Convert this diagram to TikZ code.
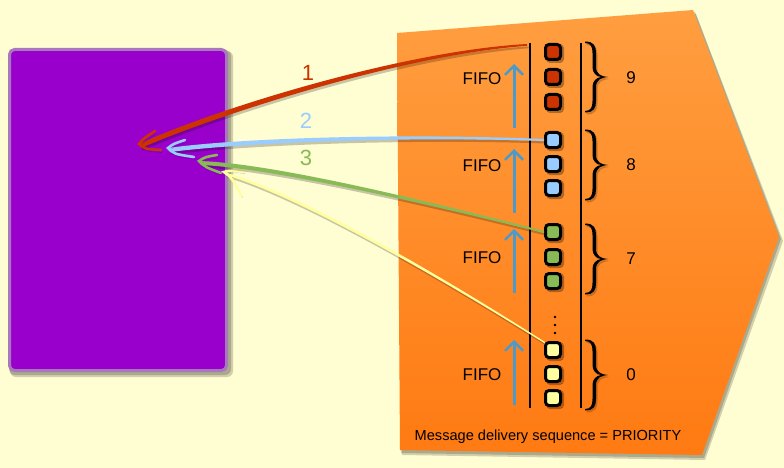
\documentclass[tikz,border=0pt]{standalone}
\usepackage{fontspec}
\setmainfont{Liberation Sans}
\usetikzlibrary{arrows.meta,calc}
\definecolor{bgc}{HTML}{FFFDD2}
\definecolor{purp}{HTML}{9900CC}
\definecolor{purpb}{HTML}{A878BC}
\definecolor{orA}{HTML}{FF9E40}
\definecolor{orB}{HTML}{FF7A12}
\definecolor{qred}{HTML}{CC3300}
\definecolor{qblue}{HTML}{99CCFF}
\definecolor{qgreen}{HTML}{88BB55}
\definecolor{qyellow}{HTML}{FFFFA0}
\definecolor{fifoc}{HTML}{4A9BCB}
\tikzset{
  sq/.style={draw=black, line width=3pt, rounded corners=3.5pt, minimum size=15pt, inner sep=0pt},
  fifolbl/.style={font=\fontsize{17}{20}\selectfont, inner sep=0pt},
  numlbl/.style={font=\fontsize{17}{20}\selectfont, inner sep=0pt},
  fifoarrow/.style={draw=fifoc, line width=3pt, -{Straight Barb[length=9pt,width=18pt,line width=2.6pt]}},
  taper/.style={preaction={fill=black, opacity=0.22, transform canvas={shift={(1.5pt,-2.5pt)}}}},
  barb/.style={line width=2.6pt, line cap=round,
     preaction={draw=black, opacity=0.22, transform canvas={shift={(1.5pt,-2.5pt)}}}},
  curvelbl/.style={font=\fontsize{22}{24}\selectfont, inner sep=0pt},
  softshadow/.style={fill=black, opacity=0.18},
  cbrace/.pic={
    \fill[black, opacity=0.2] (-10.5,-33.5) .. controls (-1.5,-33.5) and (0.5,-29) .. (0.5,-22) -- (0.5,-8)
      .. controls (0.5,-1) and (5.5,1.5) .. (12.5,2)
      .. controls (5.5,2.5) and (0.5,5) .. (0.5,12) -- (0.5,26)
      .. controls (0.5,33) and (-1.5,37.5) .. (-10.5,37.5) -- (-10.5,36)
      .. controls (-4.5,36) and (-3,32) .. (-3,26) -- (-3,12)
      .. controls (-3,6) and (0.5,3) .. (5.5,2)
      .. controls (0.5,1) and (-3,-2) .. (-3,-8) -- (-3,-22)
      .. controls (-3,-28) and (-4.5,-32) .. (-10.5,-32) -- cycle;
    \fill (-12,-35.5) .. controls (-3,-35.5) and (-1,-31) .. (-1,-24) -- (-1,-10)
      .. controls (-1,-3) and (4,-0.5) .. (11,0)
      .. controls (4,0.5) and (-1,3) .. (-1,10) -- (-1,24)
      .. controls (-1,31) and (-3,35.5) .. (-12,35.5)
      -- (-12,34)
      .. controls (-6,34) and (-4.5,30) .. (-4.5,24) -- (-4.5,10)
      .. controls (-4.5,4) and (-1,1) .. (4,0)
      .. controls (-1,-1) and (-4.5,-4) .. (-4.5,-10) -- (-4.5,-24)
      .. controls (-4.5,-30) and (-6,-34) .. (-12,-34) -- cycle;
  },
}
\begin{document}
\begin{tikzpicture}[x=1pt,y=-1pt]
\fill[bgc] (0,0) rectangle (784,468);
\useasboundingbox (0,0) rectangle (784,468);

% orange queue region (with soft shadow)
\fill[softshadow] (399,37) -- (696,14) -- (783,241) -- (705,460) -- (402,455) -- cycle;
\fill[softshadow] (398,35) -- (695,12) -- (781,239) -- (704,458) -- (401,453) -- cycle;
\shade[top color=orA, bottom color=orB]
  (397,33) -- (693,10) -- (779,237) -- (702,455) -- (400,450) -- cycle;

% client box (with soft shadow)
\fill[softshadow, rounded corners=6pt] (10,51) rectangle (233,377);
\fill[softshadow, rounded corners=6pt] (9,50) rectangle (231,375);
\node[draw=purpb, line width=3pt, fill=purp, rounded corners=5pt,
      minimum width=217pt, minimum height=321pt] (client) at (118,210) {};

% queue rails
\draw[line width=2pt] (530,43) -- (530,408);
\draw[line width=2pt] (581,43) -- (581,408);

% squares
\foreach \n/\y/\c in {r1/52/qred, r2/77/qred, r3/102/qred,
                      b1/140/qblue, b2/164/qblue, b3/188/qblue,
                      g1/232/qgreen, g2/257/qgreen, g3/281/qgreen,
                      y1/350/qyellow, y2/374/qyellow, y3/398/qyellow}
{
  \fill[black, opacity=0.3, rounded corners=4pt] (546,\y-8) rectangle (564,\y+11);
  \node[sq, fill=\c] (\n) at (553,\y) {};
}

% dots
\fill (555,317) circle (1.3);
\fill (555,325) circle (1.3);
\fill (555,333) circle (1.3);

% braces and numbers
\pic at (597,77) {cbrace};
\pic at (597,165) {cbrace};
\pic at (597,259) {cbrace};
\pic at (597,375) {cbrace};
\node[numlbl] (n9) at (631,78) {9};
\node[numlbl] (n8) at (631,165) {8};
\node[numlbl] (n7) at (631,259) {7};
\node[numlbl] (n0) at (631,375) {0};

% FIFO labels and arrows
\node[fifolbl] (f9) at (482,79) {FIFO};
\node[fifolbl] (f8) at (482,166) {FIFO};
\node[fifolbl] (f7) at (482,258) {FIFO};
\node[fifolbl] (f0) at (482,375) {FIFO};
\coordinate (a9s) at (514,128); \coordinate (a9e) at (514,64);
\coordinate (a8s) at (514,213); \coordinate (a8e) at (514,149);
\coordinate (a7s) at (514,293); \coordinate (a7e) at (514,229);
\coordinate (a0s) at (514,405); \coordinate (a0e) at (514,340);
\draw[fifoarrow] (a9s) -- (a9e);
\draw[fifoarrow] (a8s) -- (a8e);
\draw[fifoarrow] (a7s) -- (a7e);
\draw[fifoarrow] (a0s) -- (a0e);

% message curves (tapered) with swoosh arrowheads
\coordinate (startR) at (527,44);
\coordinate (startB) at ($(b1.west)+(0,-1)$);
\coordinate (startG) at ($(g1.west)+(0,-1)$);
\coordinate (startY) at ($(y1.north west)+(1,1)$);
\coordinate (tipR) at (139,144);
\coordinate (tipB) at (168,148);
\coordinate (tipG) at (199,161);
\coordinate (tipY) at (224,172);

% yellow
\fill[qyellow, taper] (startY) .. controls (440,275) and (300,193) .. (tipY)
   -- ($(tipY)+(1.5,3)$) .. controls (300,197) and (440,278) .. ($(startY)+(0,1.5)$) -- cycle;
\draw[qyellow, barb] ($(tipY)+(20,-1)$) .. controls ($(tipY)+(8,-2)$) .. (tipY)
   .. controls ($(tipY)+(8,6)$) .. ($(tipY)+(17,23)$);
% green
\fill[qgreen, taper] (startG) .. controls (420,199) and (270,163) .. (tipG)
   -- ($(tipG)+(2,4)$) .. controls (270,168) and (420,202) .. ($(startG)+(0,2)$) -- cycle;
\draw[qgreen, barb] ($(tipG)+(18,-6)$) .. controls ($(tipG)+(6,-4)$) .. (tipG)
   .. controls ($(tipG)+(6,6)$) .. ($(tipG)+(22,12)$);
% blue
\fill[qblue, taper] (startB) .. controls (400,133) and (240,138) .. (tipB)
   -- ($(tipB)+(2,4)$) .. controls (240,143) and (400,136) .. ($(startB)+(0,2)$) -- cycle;
\draw[qblue, barb] ($(tipB)+(17,-8)$) .. controls ($(tipB)+(5,-4)$) .. (tipB)
   .. controls ($(tipB)+(6,6)$) .. ($(tipB)+(26,9)$);
% red
\fill[qred, taper] (startR) .. controls (400,51) and (210,111) .. (tipR)
   -- ($(tipR)+(2,4)$) .. controls (212,117) and (400,55) .. ($(startR)+(0,1.8)$) -- cycle;
\draw[qred, barb] ($(tipR)+(16,-13)$) .. controls ($(tipR)+(4,-5)$) .. (tipR)
   .. controls ($(tipR)+(6,5)$) .. ($(tipR)+(22,6)$);

\node[curvelbl, text=qred] (l1) at (308,73) {1};
\node[curvelbl, text=qblue] (l2) at (306,121) {2};
\node[curvelbl, text=qgreen] (l3) at (306,158) {3};

\node[font=\fontsize{14.6}{17}\selectfont, inner sep=0pt] (caption) at (548,437) {Message delivery sequence = PRIORITY};
\end{tikzpicture}
\end{document}
